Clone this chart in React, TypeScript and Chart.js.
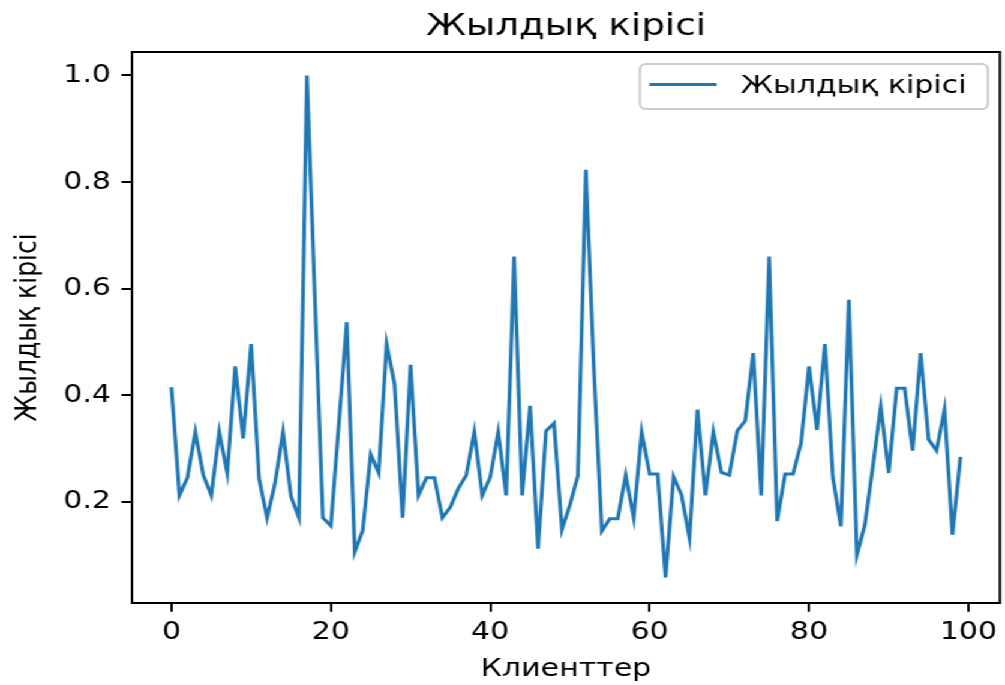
import React, { useEffect, useRef } from "react";
import { Chart, registerables } from "chart.js";

Chart.register(...registerables);

const chartTitle = "Жылдық кірісі";
const xAxisLabel = "Клиенттер";
const yAxisLabel = "Жылдық кірісі";
const seriesLabel = "Жылдық кірісі";

const clients: number[] = Array.from({ length: 100 }, (_, i) => i);
const income: number[] = [
  0.415, 0.212, 0.245, 0.331, 0.25, 0.212, 0.331, 0.254, 0.454, 0.319,
  0.496, 0.243, 0.17, 0.235, 0.331, 0.21, 0.17, 1.0, 0.58, 0.17,
  0.155, 0.345, 0.537, 0.106, 0.146, 0.289, 0.254, 0.496, 0.42, 0.17,
  0.457, 0.212, 0.245, 0.245, 0.17, 0.19, 0.225, 0.25, 0.331, 0.212,
  0.246, 0.331, 0.212, 0.66, 0.212, 0.38, 0.112, 0.333, 0.347, 0.148,
  0.194, 0.249, 0.823, 0.45, 0.145, 0.168, 0.168, 0.25, 0.17, 0.331,
  0.252, 0.252, 0.058, 0.247, 0.213, 0.132, 0.373, 0.212, 0.331, 0.255,
  0.25, 0.333, 0.352, 0.479, 0.212, 0.66, 0.164, 0.252, 0.252, 0.31,
  0.454, 0.335, 0.496, 0.245, 0.154, 0.579, 0.1, 0.156, 0.265, 0.379,
  0.254, 0.413, 0.413, 0.296, 0.479, 0.317, 0.296, 0.373, 0.138, 0.284,
];
const xTickValues: number[] = [0, 20, 40, 60, 80, 100];
const yTickValues: number[] = [0.2, 0.4, 0.6, 0.8, 1.0];
const xLimits: number[] = [-4.95, 103.95];
const yLimits: number[] = [0.01, 1.044];

const FONT = "'DejaVu Sans', sans-serif";
const STRETCH = 1.2;
const CANVAS_W = 837;
const CANVAS_H = 685;
const LINE_COLOR = "#1f77b4";
const TEXT_COLOR = "#000000";

const framePlugin = {
  id: "axesFrame",
  afterDatasetsDraw(chart: any) {
    const { ctx, chartArea: a } = chart;
    ctx.save();
    ctx.strokeStyle = "#000000";
    ctx.lineWidth = 2;
    ctx.strokeRect(a.left, a.top, a.right - a.left, a.bottom - a.top);
    ctx.restore();
  },
};

const innerLegendPlugin = {
  id: "innerLegend",
  afterDraw(chart: any) {
    const { ctx, chartArea: a } = chart;
    const ds = chart.data.datasets[0];
    const boxW = 290;
    const boxH = 45;
    const boxRight = a.right - 10;
    const boxLeft = boxRight - boxW;
    const boxTop = a.top + 12;
    ctx.save();
    ctx.beginPath();
    if ((ctx as any).roundRect) {
      (ctx as any).roundRect(boxLeft, boxTop, boxW, boxH, 5);
    } else {
      ctx.rect(boxLeft, boxTop, boxW, boxH);
    }
    ctx.fillStyle = "rgba(255,255,255,0.8)";
    ctx.fill();
    ctx.strokeStyle = "#cccccc";
    ctx.lineWidth = 2;
    ctx.stroke();

    const midY = boxTop + boxH / 2;
    ctx.beginPath();
    ctx.strokeStyle = ds.borderColor;
    ctx.lineWidth = ds.borderWidth;
    ctx.moveTo(boxLeft + 8, midY - 2);
    ctx.lineTo(boxLeft + 64, midY - 2);
    ctx.stroke();

    ctx.fillStyle = TEXT_COLOR;
    ctx.font = `25px ${FONT}`;
    ctx.textBaseline = "middle";
    ctx.textAlign = "left";
    ctx.fillText(ds.label, boxLeft + 84, midY);
    ctx.restore();
  },
};

export default function App() {
  const canvasRef = useRef<HTMLCanvasElement | null>(null);

  useEffect(() => {
    document.body.style.overflow = "hidden";
    const canvas = canvasRef.current;
    if (!canvas) return;
    const tickFont = { family: FONT, size: 25, weight: "normal" as const, lineHeight: 1.2 };
    const chart = new Chart(canvas, {
      type: "line",
      data: {
        datasets: [
          {
            label: seriesLabel,
            data: clients.map((c, i) => ({ x: c, y: income[i] })),
            borderColor: LINE_COLOR,
            backgroundColor: LINE_COLOR,
            borderWidth: 3.1,
            pointRadius: 0,
            tension: 0,
            fill: false,
          },
        ],
      },
      options: {
        responsive: false,
        animation: false,
        devicePixelRatio: 1,
        events: [],
        layout: { padding: { left: 0, right: 3.7, top: 0, bottom: 0 } },
        plugins: {
          legend: { display: false },
          tooltip: { enabled: false },
          title: {
            display: true,
            text: chartTitle,
            fullSize: false,
            color: TEXT_COLOR,
            font: { family: FONT, size: 31, weight: "normal", lineHeight: 1.2 },
            padding: { top: 8, bottom: 6.8 },
          },
        },
        scales: {
          x: {
            type: "linear",
            min: xLimits[0],
            max: xLimits[1],
            afterBuildTicks: (s: any) => {
              s.ticks = xTickValues.map((v) => ({ value: v }));
            },
            afterFit: (s: any) => {
              s.height = 82;
            },
            border: { display: false },
            grid: {
              drawOnChartArea: false,
              drawTicks: true,
              tickLength: 8.75,
              color: "#000000",
              lineWidth: 2,
            },
            ticks: {
              color: TEXT_COLOR,
              padding: 6,
              maxRotation: 0,
              autoSkip: false,
              font: tickFont,
              callback: (v: any) => String(v),
            },
            title: {
              display: true,
              text: xAxisLabel,
              color: TEXT_COLOR,
              font: tickFont,
              padding: { top: 0, bottom: 1 },
            },
          },
          y: {
            type: "linear",
            min: yLimits[0],
            max: yLimits[1],
            afterBuildTicks: (s: any) => {
              s.ticks = yTickValues.map((v) => ({ value: v }));
            },
            afterFit: (s: any) => {
              s.width = 110;
            },
            border: { display: false },
            grid: {
              drawOnChartArea: false,
              drawTicks: true,
              tickLength: 8.75,
              color: "#000000",
              lineWidth: 2,
            },
            ticks: {
              color: TEXT_COLOR,
              padding: 8.75,
              autoSkip: false,
              font: tickFont,
              callback: (v: any) => Number(v).toFixed(1),
            },
            title: {
              display: true,
              text: yAxisLabel,
              color: TEXT_COLOR,
              font: tickFont,
              padding: { top: 8, bottom: 0 },
            },
          },
        },
      },
      plugins: [framePlugin, innerLegendPlugin],
    } as any);
    return () => chart.destroy();
  }, []);

  return (
    <div
      style={{
        position: "absolute",
        left: 0,
        top: 0,
        width: CANVAS_W,
        height: CANVAS_H,
        transform: `scaleX(${STRETCH})`,
        transformOrigin: "0 0",
        background: "#ffffff",
      }}
    >
      <canvas ref={canvasRef} width={CANVAS_W} height={CANVAS_H} />
    </div>
  );
}
